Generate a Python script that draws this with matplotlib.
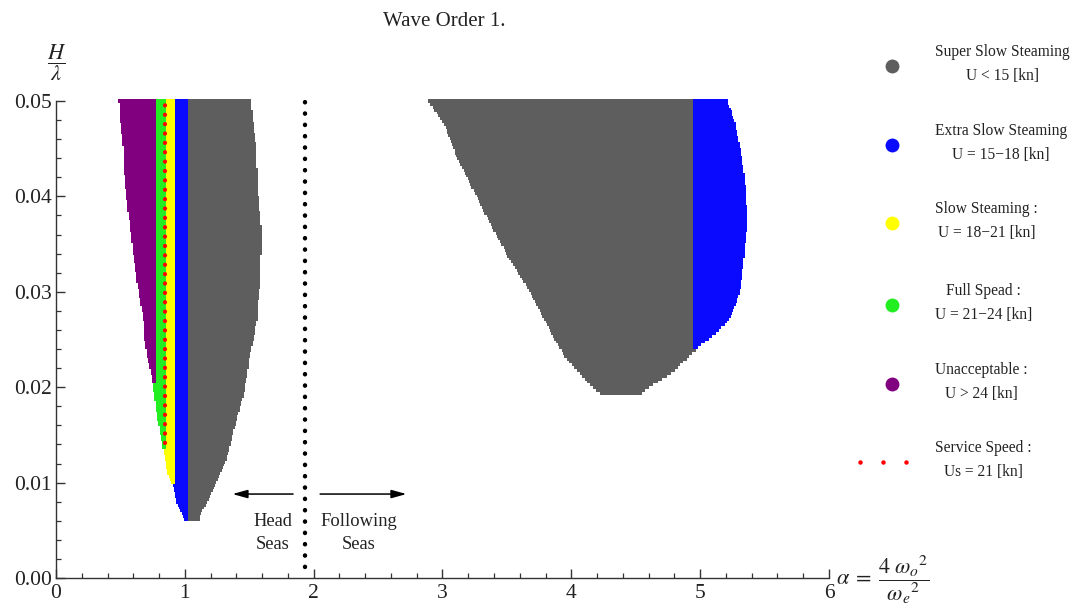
import numpy as np
import matplotlib
matplotlib.use("Agg")
import matplotlib.pyplot as plt
from matplotlib.ticker import MultipleLocator, FormatStrFormatter

plt.rcParams["font.family"] = ["Liberation Serif", "DejaVu Serif"]
plt.rcParams["mathtext.fontset"] = "stix"

# ---- operability regions (outline of each region: H/lambda level -> alpha span) ----
head_h = [0.0500, 0.0477, 0.0455, 0.0430, 0.0400, 0.0370, 0.0340, 0.0310, 0.0290,
          0.0270, 0.0250, 0.0230, 0.0210, 0.0190, 0.0170, 0.0150, 0.0130, 0.0110,
          0.0095, 0.0080, 0.0070, 0.0062]
head_lo = [0.50, 0.51, 0.53, 0.535, 0.555, 0.585, 0.61, 0.64, 0.665,
           0.69, 0.70, 0.72, 0.755, 0.775, 0.795, 0.82, 0.85, 0.875,
           0.92, 0.945, 0.98, 1.01]
head_hi = [1.50, 1.52, 1.54, 1.55, 1.56, 1.58, 1.58, 1.575, 1.56,
           1.55, 1.52, 1.49, 1.47, 1.44, 1.40, 1.36, 1.325, 1.27,
           1.22, 1.17, 1.12, 1.10]

follow_h = [0.0500, 0.0477, 0.0442, 0.0407, 0.0372, 0.0337, 0.0302, 0.0284,
            0.0267, 0.0253, 0.0244, 0.0232, 0.0215, 0.0204, 0.0193]
follow_lo = [2.90, 3.02, 3.12, 3.25, 3.38, 3.52, 3.68, 3.75,
             3.82, 3.87, 3.91, 3.96, 4.07, 4.145, 4.24]
follow_hi = [5.20, 5.26, 5.31, 5.345, 5.356, 5.33, 5.30, 5.26,
             5.19, 5.08, 4.99, 4.895, 4.77, 4.64, 4.53]

# ---- speed classes ----
class_titles = ["Super Slow Steaming", "Extra Slow Steaming", "Slow Steaming :",
                "Full Spead :", "Unacceptable :"]
class_ranges = ["U < 15 [kn]", "U = 15\u221218 [kn]", "U = 18\u221221 [kn]",
                "U = 21\u221224 [kn]", "U > 24 [kn]"]
class_colors = ["#5e5e5e", "#0a0aff", "#ffff00", "#22ee22", "#800080"]

# alpha values where the speed class changes (head seas: purple|green|yellow|blue|gray)
head_breaks = [0.765, 0.845, 0.915, 1.02]
follow_break = 4.96

service_title = "Service Speed :"
service_range = "Us = 21 [kn]"
service_alpha = 0.845
service_h = [0.0142, 0.0500]

divider_alpha = 1.93
divider_h = [0.0012, 0.0500]

# sampling grid of the computation
h_step = 0.0003
a_step = 0.01


def region_points(h_lvls, lo, hi, h_min):
    h_lvls = np.asarray(h_lvls)[::-1]
    lo = np.asarray(lo)[::-1]
    hi = np.asarray(hi)[::-1]
    hs = np.arange(0.0500, h_min - 1e-9, -h_step)
    alphas = np.arange(0.0, 6.0 + 1e-9, a_step)
    A, H = np.meshgrid(alphas, hs)
    a_lo = np.interp(H, h_lvls, lo)
    a_hi = np.interp(H, h_lvls, hi)
    mask = (A >= a_lo) & (A <= a_hi)
    return A[mask], H[mask]


fig = plt.figure(figsize=(10.8, 6.1), dpi=100)
ax = fig.add_axes([56 / 1080, 32 / 610, 773 / 1080, 477 / 610])

ha, hh = region_points(head_h, head_lo, head_hi, min(head_h))
head_cls = 4 - np.digitize(ha, head_breaks)
fa, fh = region_points(follow_h, follow_lo, follow_hi, min(follow_h))
follow_cls = (fa >= follow_break).astype(int)

all_a = np.concatenate([ha, fa])
all_h = np.concatenate([hh, fh])
all_c = np.concatenate([head_cls, follow_cls])
for k, col in enumerate(class_colors):
    sel = all_c == k
    ax.scatter(all_a[sel], all_h[sel], s=5.2, marker="s", c=col,
               linewidths=0, clip_on=False, zorder=2)

# service speed line
ax.plot([service_alpha, service_alpha], service_h, color="red", lw=3.0,
        linestyle=(0, (0.05, 2.2)), dash_capstyle="round", clip_on=False, zorder=3)

# head / following seas divider
ax.plot([divider_alpha, divider_alpha], divider_h, color="black", lw=3.2,
        linestyle=(0, (0.05, 2.5)), dash_capstyle="round", clip_on=False, zorder=3)

arrow = dict(arrowstyle="-|>,head_length=0.9,head_width=0.25", color="black",
             lw=1.1, shrinkA=0, shrinkB=0)
ax.annotate("", xy=(1.37, 0.0088), xytext=(1.84, 0.0088), arrowprops=arrow)
ax.annotate("", xy=(2.72, 0.0088), xytext=(2.05, 0.0088), arrowprops=arrow)
ax.text(1.68, 0.0047, "Head\nSeas", ha="center", va="center", fontsize=13.3,
        linespacing=1.45, color="#222222")
ax.text(2.35, 0.0047, "Following\nSeas", ha="center", va="center", fontsize=13.3,
        linespacing=1.45, color="#222222")

# axes styling
ax.set_xlim(0, 6)
ax.set_ylim(0, 0.05)
for side in ("top", "right"):
    ax.spines[side].set_visible(False)
for side in ("left", "bottom"):
    ax.spines[side].set_color("#333333")
    ax.spines[side].set_linewidth(1.0)
ax.xaxis.set_major_locator(MultipleLocator(1))
ax.xaxis.set_minor_locator(MultipleLocator(0.2))
ax.yaxis.set_major_locator(MultipleLocator(0.01))
ax.yaxis.set_minor_locator(MultipleLocator(0.002))
ax.yaxis.set_major_formatter(FormatStrFormatter("%.2f"))
ax.xaxis.set_major_formatter(FormatStrFormatter("%d"))
ax.tick_params(which="both", direction="in", color="#333333", labelsize=15.5,
               labelcolor="#222222")
ax.tick_params(which="major", length=6.5, width=1.0)
ax.tick_params(which="minor", length=3.3, width=0.9)
ax.tick_params(axis="x", pad=4)
ax.tick_params(axis="y", pad=3)

fig.text(444 / 1080, 1 - 22 / 610, "Wave Order 1.", ha="center", va="center",
         fontsize=15, color="#222222")
fig.text(57 / 1080, 1 - 63 / 610, r"$\dfrac{H}{\lambda}$", ha="center", va="center",
         fontsize=16, color="#222222")
fig.text(836 / 1080, 1 - 580 / 610, r"$\alpha\;=\;\dfrac{4\;\omega_o{}^2}{\omega_e{}^2}$",
         ha="left", va="center", fontsize=16, color="#222222")

# legend drawn in figure pixel coordinates
lax = fig.add_axes([0, 0, 1, 1])
lax.set_xlim(0, 1080)
lax.set_ylim(610, 0)
lax.axis("off")
entry_y = [64, 143, 221, 303, 382, 460]
for k in range(len(class_titles)):
    lax.scatter([892], [entry_y[k] + 2], s=100, c=class_colors[k], linewidths=0)
    lax.text(935, entry_y[k], class_titles[k] + "\n" + class_ranges[k], ha="left",
             va="center", multialignment="center", fontsize=11.2, linespacing=1.65,
             color="#222222")
lax.plot([860, 883, 906], [entry_y[5] + 2] * 3, linestyle="none", marker="o",
         ms=3.2, color="red", mew=0)
lax.text(935, entry_y[5], service_title + "\n" + service_range, ha="left",
         va="center", multialignment="center", fontsize=11.2, linespacing=1.65,
         color="#222222")

fig.savefig("out.png", dpi=100)
